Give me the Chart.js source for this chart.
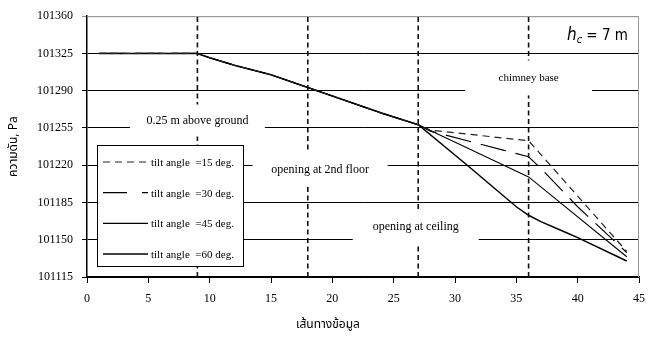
<!DOCTYPE html>
<html><head><meta charset="utf-8">
<script src="https://cdn.jsdelivr.net/npm/chart.js@4/dist/chart.umd.min.js"></script>
<style>html,body{margin:0;padding:0;background:#fff}</style>
</head><body>
<canvas id="c" width="655" height="345"></canvas>
<script>
// ---- data ----
const seriesNames = ['tilt angle  =15 deg.', 'tilt angle  =30 deg.', 'tilt angle  =45 deg.', 'tilt angle  =60 deg.'];
// shared path (all four series coincide up to node 27)
const pathX = [1, 9, 10, 12, 15, 18, 21, 24, 27];
const pathY = [101325, 101325, 101321, 101314, 101305, 101293, 101281, 101269, 101258];
// tails after node 27
const tail15X = [28, 32, 36, 44];
const tail15Y = [101253, 101248, 101243, 101139];
const tail30X = [28, 34, 36, 37, 40, 44];
const tail30Y = [101252, 101234, 101228, 101217, 101181, 101138];
const tail45X = [36, 44];
const tail45Y = [101209, 101134];
const tail60X = [31, 35, 36, 37, 39, 40, 44];
const tail60Y = [101220, 101181, 101173, 101167, 101157, 101152, 101130];
// vertical reference lines (nodes)
const markerX = [9, 18, 27, 36];
const yTicksMin = 101115, yTicksMax = 101360, yStep = 35;
const xMin = 0, xMax = 45, xStep = 5;
const yTitle = 'ความดัน, Pa';
const xTitle = 'เส้นทางข้อมูล';
const noteTexts = ['0.25 m above ground', 'opening at 2nd floor', 'opening at ceiling', 'chimney base'];
const noteX = [9, 19, 26.8, 36];
const noteY = [101262, 101216, 101162, 101302];

// ---- build ----
function pts(xs, ys){ return xs.map((x,i)=>({x, y: ys[i]})); }
const tails = [[tail15X, tail15Y], [tail30X, tail30Y], [tail45X, tail45Y], [tail60X, tail60Y]];
const seriesStyle = [
  {dash:[7,5], width:1.2, color:'#222'},
  {dash:[26,10], width:1.2, color:'#000'},
  {dash:[], width:1.1, color:'#000'},
  {dash:[], width:1.5, color:'#000'}
];
const datasets = [];
markerX.forEach(mx => {
  datasets.push({label:'_m', data: pts([mx, mx], [yTicksMin, yTicksMax]), borderColor:'#111', borderWidth:1.6, borderDash:[5,3.5], pointRadius:0, fill:false});
});
seriesNames.forEach((n, i) => {
  const [tx, ty] = tails[i];
  const d = pts(pathX.concat(tx), pathY.concat(ty));
  const st = seriesStyle[i];
  datasets.push({label:n, data:d, borderColor:st.color, borderWidth:st.width, borderDash:st.dash, pointRadius:0, fill:false, tension:0});
});

// note box sizes (px)
const noteBox = [[135, 32], [135, 34], [126, 32], [127, 35]];
const SERIF = "'Liberation Serif', 'Times New Roman', serif";
const THAI = "'Noto Sans Thai', 'Noto Serif Thai', 'Loma', 'Garuda', 'Norasi', 'Liberation Serif', serif";
Chart.defaults.font.family = SERIF;

const overlay = {
  id: 'overlay',
  beforeDatasetsDraw(chart){
    const {ctx, chartArea:a} = chart;
    ctx.save();
    ctx.strokeStyle = '#999'; ctx.lineWidth = 1;
    ctx.beginPath();
    ctx.moveTo(a.left, a.top + 0.5); ctx.lineTo(a.right - 0.5, a.top + 0.5); ctx.lineTo(a.right - 0.5, a.bottom);
    ctx.stroke();
    ctx.restore();
  },
  afterDatasetsDraw(chart){
    const {ctx, scales:{x, y}} = chart;
    ctx.save();
    // note labels with white boxes
    noteTexts.forEach((t, i) => {
      const cx = x.getPixelForValue(noteX[i]);
      const cy = y.getPixelForValue(noteY[i]);
      const [w, h] = noteBox[i];
      ctx.fillStyle = '#fff';
      ctx.fillRect(cx - w/2, cy - h/2, w, h);
      ctx.fillStyle = '#000';
      ctx.font = (i === 3 ? '11px ' : '12px ') + SERIF;
      ctx.textAlign = 'center'; ctx.textBaseline = 'middle';
      ctx.fillText(t, cx, cy);
    });
    // h_c label
    {
      const right = x.getPixelForValue(44.1), cy = y.getPixelForValue(101343);
      const f = "'Liberation Sans Narrow', 'DejaVu Sans Condensed', 'Liberation Sans', sans-serif";
      ctx.textBaseline = 'alphabetic'; ctx.textAlign = 'left';
      const parts = [['italic 17px ' + f, 'h', 0], ['italic 11px ' + f, 'c', 3], ['15px ' + f, ' = 7 m', 0]];
      let tw = 0;
      parts.forEach(p => { ctx.font = p[0]; tw += ctx.measureText(p[1]).width; });
      ctx.fillStyle = '#fff';
      ctx.fillRect(right - tw - 4, cy - 13, tw + 8, 26);
      ctx.fillStyle = '#000';
      let px = right - tw, base = cy + 6;
      parts.forEach(p => { ctx.font = p[0]; ctx.fillText(p[1], px, base + p[2]); px += ctx.measureText(p[1]).width; });
    }
    // legend box
    const lx = 97, ly = 145, lw = 146, lh = 121;
    ctx.fillStyle = '#fff'; ctx.fillRect(lx, ly, lw, lh);
    ctx.strokeStyle = '#000'; ctx.lineWidth = 1; ctx.setLineDash([]);
    ctx.strokeRect(lx + 0.5, ly + 0.5, lw, lh);
    seriesNames.forEach((n, i) => {
      const st = seriesStyle[i];
      const ry = ly + 17 + i * 30.7;
      ctx.strokeStyle = st.color; ctx.lineWidth = st.width;
      ctx.setLineDash(i === 1 ? [24, 15] : st.dash);
      ctx.beginPath(); ctx.moveTo(103, ry); ctx.lineTo(148, ry); ctx.stroke();
      ctx.setLineDash([]);
      ctx.fillStyle = '#000'; ctx.font = '11px ' + SERIF; ctx.textAlign = 'left'; ctx.textBaseline = 'middle';
      ctx.fillText(n, 151, ry + 1);
    });
    ctx.restore();
  },
  afterDraw(chart){
    const {ctx, chartArea:a} = chart;
    ctx.save();
    ctx.fillStyle = '#000';
    ctx.font = '12px ' + THAI;
    ctx.textAlign = 'center'; ctx.textBaseline = 'middle';
    ctx.fillText(xTitle, 328, 326);
    ctx.translate(15, (a.top + a.bottom) / 2);
    ctx.rotate(-Math.PI / 2);
    ctx.fillText(yTitle, 0, 0);
    ctx.restore();
  }
};

new Chart(document.getElementById('c'), {
  type: 'line',
  data: { datasets },
  options: {
    responsive: false, animation: false, devicePixelRatio: 1,
    layout: { padding: { left: 0, right: 16, top: 10, bottom: 0 } },
    plugins: { legend: { display: false }, tooltip: { enabled: false } },
    elements: { line: { tension: 0 } },
    scales: {
      x: {
        type: 'linear', min: xMin, max: xMax,
        ticks: { stepSize: xStep, color: '#000', font: { family: SERIF, size: 12 }, padding: 9, maxRotation: 0, callback: v => String(v) },
        grid: { drawOnChartArea: false, drawTicks: true, tickLength: 6, color: '#000' },
        border: { color: '#000', width: 1.5 },
        afterFit: s => { s.height = 68; }
      },
      y: {
        type: 'linear', min: yTicksMin, max: yTicksMax,
        ticks: { stepSize: yStep, color: '#000', font: { family: SERIF, size: 12 }, padding: 9, callback: v => String(v) },
        grid: { color: c => (c.tick && c.tick.value === yTicksMax) ? '#999' : '#000', tickLength: 5, lineWidth: 1 },
        border: { color: '#000', width: 1.5 },
        afterFit: s => { s.width = 87; }
      }
    }
  },
  plugins: [overlay]
});
</script>
</body></html>
